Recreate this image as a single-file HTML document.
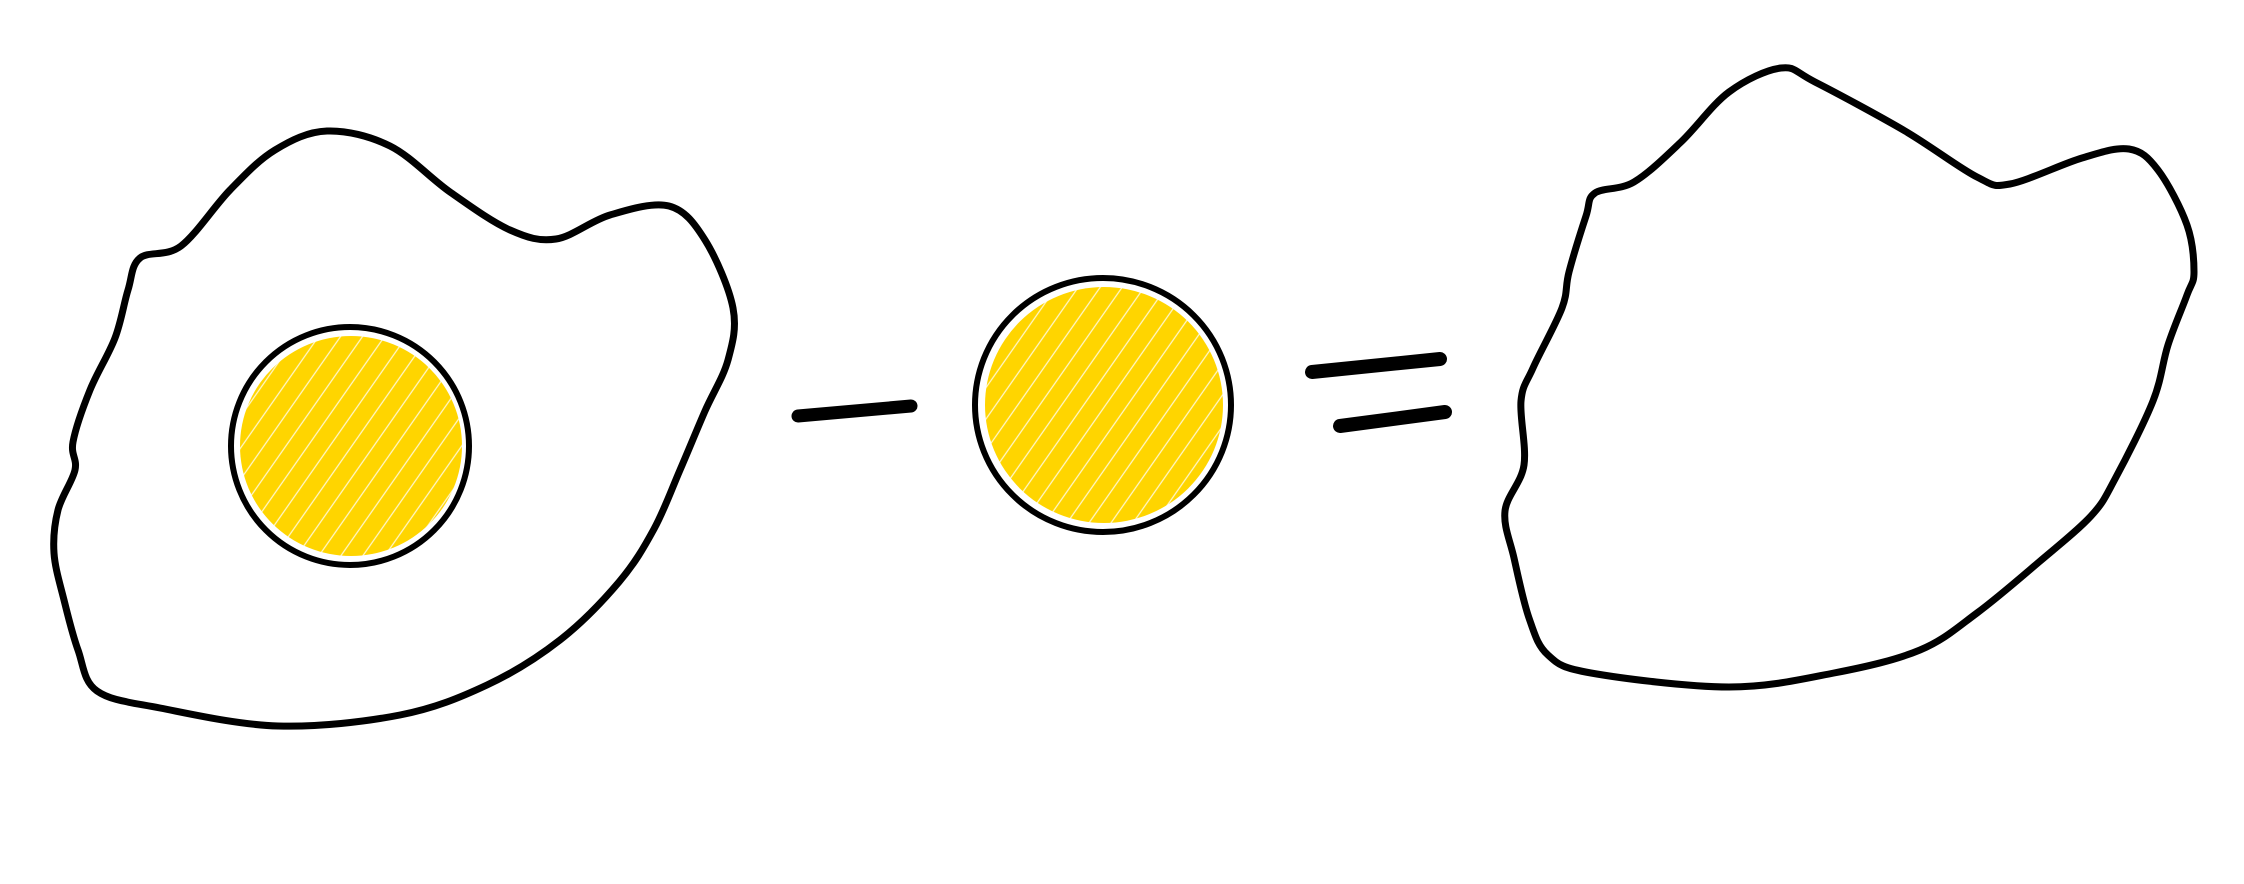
<!DOCTYPE html>
<html><head><meta charset="utf-8"><style>
html,body{margin:0;padding:0;background:#fff;}
svg{display:block;}
</style></head><body>
<svg width="2244" height="884" viewBox="0 0 2244 884">
<defs>
<pattern id="hatch" width="18" height="18" patternUnits="userSpaceOnUse" patternTransform="rotate(-55)">
<rect width="18" height="18" fill="#FFD500"/>
<line x1="0" y1="4" x2="18" y2="4" stroke="#fff" stroke-width="1.2" opacity="0.8"/>
</pattern>
</defs>
<path id="egg1" fill="#fff" stroke="#000" stroke-width="7" stroke-linejoin="round"/>
<ellipse cx="351" cy="446" rx="111" ry="110" fill="url(#hatch)"/>
<ellipse cx="350" cy="446" rx="119" ry="119" fill="none" stroke="#000" stroke-width="6"/>
<ellipse cx="1104" cy="405" rx="119" ry="118" fill="url(#hatch)"/>
<ellipse cx="1103" cy="405" rx="128" ry="127" fill="none" stroke="#000" stroke-width="6"/>
<line x1="798" y1="416" x2="911" y2="406" stroke="#000" stroke-width="13" stroke-linecap="round"/>
<line x1="1312" y1="372" x2="1440" y2="359" stroke="#000" stroke-width="14" stroke-linecap="round"/>
<line x1="1340" y1="426" x2="1445" y2="412" stroke="#000" stroke-width="14" stroke-linecap="round"/>
<path id="egg2" fill="#fff" stroke="#000" stroke-width="7" stroke-linejoin="round"/>
</svg>
<script>
const egg1Outline=[[327,131],[390,146],[450,192],[510,230],[556,239],[610,215],[669,206],[705,240],[733,308],[728,360],[705,411],[680,470],[654,529],[619,582],[560,640],[487,685],[400,715],[278,726],[160,708],[97,691],[78,650],[64,600],[54,553],[58,510],[75,470],[73,442],[90,390],[115,338],[128,290],[140,258],[181,246],[230,190],[275,150]];
const egg2Outline=[[1781,68],[1815,82],[1905,131],[1977,177],[2010,184],[2082,158],[2129,149],[2158,170],[2187,225],[2194,272],[2187,295],[2168,345],[2153,401],[2115,479],[2091,516],[2039,562],[1977,613],[1920,650],[1834,673],[1729,687],[1591,673],[1548,655],[1529,618],[1514,558],[1505,511],[1524,465],[1521,401],[1533,368],[1562,308],[1569,272],[1586,216],[1595,193],[1634,182],[1681,142],[1729,92]];
function smooth(p){
  const n=p.length;let d='M'+p[0][0]+','+p[0][1];
  for(let i=0;i<n;i++){
    const p0=p[(i-1+n)%n],p1=p[i],p2=p[(i+1)%n],p3=p[(i+2)%n];
    const c1=[p1[0]+(p2[0]-p0[0])/6,p1[1]+(p2[1]-p0[1])/6];
    const c2=[p2[0]-(p3[0]-p1[0])/6,p2[1]-(p3[1]-p1[1])/6];
    d+=' C'+c1[0]+','+c1[1]+' '+c2[0]+','+c2[1]+' '+p2[0]+','+p2[1];
  }
  return d+'Z';
}
document.getElementById('egg1').setAttribute('d',smooth(egg1Outline));
document.getElementById('egg2').setAttribute('d',smooth(egg2Outline));
</script>
</body></html>
